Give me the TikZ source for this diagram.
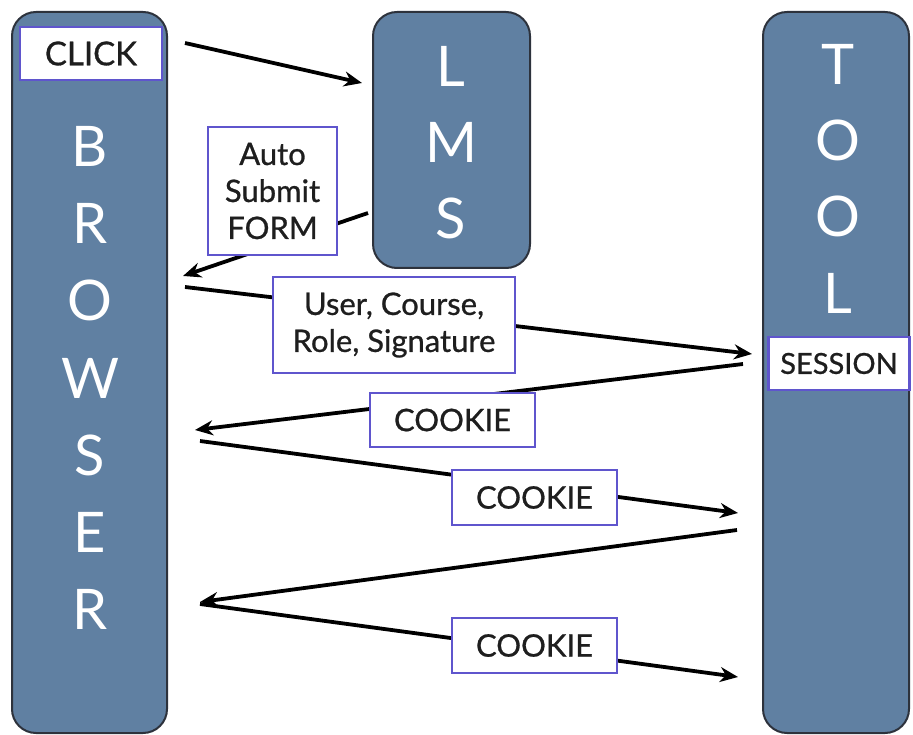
\documentclass[tikz,border=0pt]{standalone}
\usepackage{fontspec}
\setmainfont{Lato}
\newfontfamily\tagfont[FakeBold=0.8]{Lato}
\usetikzlibrary{arrows.meta}
\definecolor{panelblue}{RGB}{96,128,162}
\definecolor{paneledge}{RGB}{45,50,60}
\definecolor{tagedge}{RGB}{95,85,205}
\definecolor{ink}{RGB}{30,30,30}
\begin{document}
\begin{tikzpicture}[x=1pt,y=-1pt,
  panel/.style={draw=paneledge, line width=2pt, fill=panelblue, rounded corners=24pt, inner sep=0pt},
  bigletter/.style={text=white, font=\fontsize{56}{56}\selectfont, inner sep=0pt, anchor=base},
  tag/.style={draw=tagedge, line width=2.5pt, fill=white, inner sep=0pt, text=ink,
    font=\tagfont\fontsize{31}{37}\selectfont, align=center},
  flow/.style={line width=3.8pt, draw=black},
  tip/.style={-{Stealth[length=18pt,width=15pt]}}
]
\useasboundingbox (0,0) rectangle (913,735);

% the three parties
\node[panel, minimum width=155pt, minimum height=721pt] (browser) at (89.5,372.5) {};
\node[panel, minimum width=157pt, minimum height=256pt] (lms) at (451.5,140) {};
\node[panel, minimum width=146pt, minimum height=721pt] (tool) at (836,372.5) {};

% vertical titles
\foreach \ch [count=\i from 0] in {B,R,O,W,S,E,R}
  \node[bigletter] (bl\i) at (90,{167+77*\i}) {\ch};
\foreach \ch [count=\i from 0] in {L,M,S}
  \node[bigletter] (ll\i) at (451,{87+76*\i}) {\ch};
\foreach \ch [count=\i from 0] in {T,O,O,L}
  \node[bigletter] (tl\i) at (838,{85+76*\i}) {\ch};

% end points of the message arrows
\coordinate (clickOut) at (185,43);
\coordinate (lmsIn)    at (362,83);
\coordinate (lmsOut)   at (368,213);
\coordinate (brIn1)    at (183,276);
\coordinate (brOut1)   at (185,287);
\coordinate (toolIn1)  at (752,354);
\coordinate (toolOut1) at (743,364);
\coordinate (brIn2)    at (195,430);
\coordinate (brOut2)   at (200,441);
\coordinate (toolIn2)  at (738,513);
\coordinate (toolOut2) at (737,530);
\coordinate (brIn3)    at (200,602);
\coordinate (brOut3)   at (200,604);
\coordinate (toolIn3)  at (738,677);

% messages
\draw[flow, tip] (clickOut) -- (lmsIn);
\draw[flow, tip] (lmsOut) -- (brIn1);
\draw[flow, tip] (brOut1) -- (toolIn1);
\draw[flow, tip] (toolOut1) -- (brIn2);
\draw[flow, tip] (brOut2) -- (toolIn2);
\draw[flow, tip] (toolOut2) -- (brIn3);
\draw[flow, tip] (brOut3) -- (toolIn3);

% labels
\node[tag, minimum width=142pt, minimum height=53pt, font=\tagfont\fontsize{33}{37}\selectfont] (click) at (91,53.5) {CLICK};
\node[tag, minimum width=129pt, minimum height=128pt] (auto) at (272.5,191) {Auto\\Submit\\FORM};
\node[tag, minimum width=242pt, minimum height=96pt] (params) at (394,325) {User, Course,\\Role, Signature};
\node[tag, minimum width=165pt, minimum height=54pt] (cookieA) at (452.5,420) {COOKIE};
\node[tag, minimum width=165pt, minimum height=55pt] (cookieB) at (534.5,497.5) {COOKIE};
\node[tag, minimum width=165pt, minimum height=55pt] (cookieC) at (534.5,645.5) {COOKIE};
\node[tag, minimum width=141pt, minimum height=53pt, font=\tagfont\fontsize{29}{37}\selectfont] (session) at (839,363.5) {SESSION};
\end{tikzpicture}
\end{document}
